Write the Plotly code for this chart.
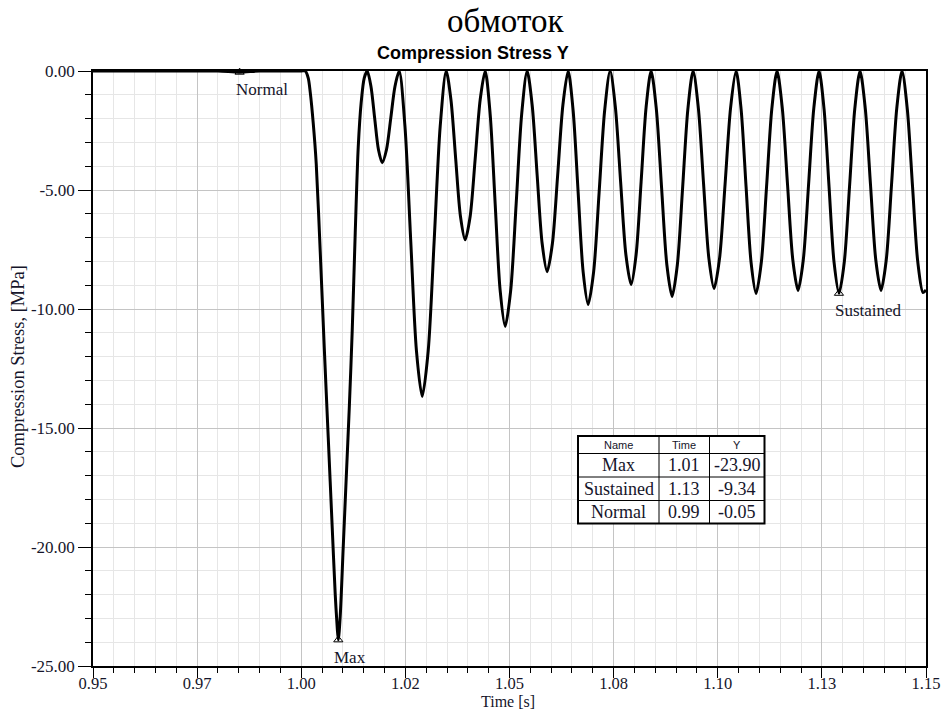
import plotly.graph_objects as go

# ---------------- data ----------------
time_s = [
    0.95, 0.96, 0.97, 0.98, 0.9852, 0.99, 1.0, 1.00096,
    1.00168, 1.00216, 1.00288, 1.0036, 1.00456, 1.00552, 1.00648, 1.00744, 1.00816, 1.00864, 1.0089,
    1.00936, 1.01008, 1.0108, 1.01152, 1.01224, 1.01296, 1.01368, 1.0144, 1.01512, 1.01584,
    1.01674, 1.01764, 1.01854, 1.01944, 1.02046, 1.02148, 1.0225, 1.02352,
    1.0249, 1.02628, 1.02766, 1.02904, 1.03048, 1.03192, 1.03336, 1.0348,
    1.03594, 1.03708, 1.03822, 1.03936, 1.04056, 1.04176, 1.04296, 1.04416,
    1.04536, 1.04656, 1.04776, 1.04896, 1.05028, 1.0516, 1.05292, 1.05424,
    1.05544, 1.05664, 1.05784, 1.05904, 1.0603, 1.06156, 1.06282, 1.06408,
    1.06528, 1.06648, 1.06768, 1.06888, 1.0702, 1.07152, 1.07284, 1.07416,
    1.07542, 1.07668, 1.07794, 1.0792, 1.0804, 1.0816, 1.0828, 1.084,
    1.08526, 1.08652, 1.08778, 1.08904, 1.0903, 1.09156, 1.09282, 1.09408,
    1.09534, 1.0966, 1.09786, 1.09912, 1.10044, 1.10176, 1.10308, 1.1044,
    1.1056, 1.1068, 1.108, 1.1092, 1.11046, 1.11172, 1.11298, 1.11424,
    1.1155, 1.11676, 1.11802, 1.11928, 1.12054, 1.1218, 1.12306, 1.12432,
    1.12552, 1.12672, 1.12792, 1.12912, 1.13038, 1.13164, 1.1329, 1.13416,
    1.13542, 1.13668, 1.13794, 1.1392, 1.14046, 1.14172, 1.14298, 1.14424,
    1.1455, 1.14676, 1.14802, 1.14928, 1.15,
]

stress_mpa = [
    0, 0, 0, 0, -0.05, 0, 0, 0,
    -0.3, -0.9, -2.2, -3.9, -7.6, -11.6, -15.4, -19.2, -22.0, -23.4, -23.9,
    -22.9, -20.0, -17.1, -14.2, -10.9, -6.8, -3.2, -1.3, -0.3, 0,
    -0.65, -2.00, -3.31, -3.85, -3.31, -2.00, -0.65, 0,
    -2.33, -7.11, -11.76, -13.68, -11.76, -7.11, -2.33, 0,
    -1.21, -3.69, -6.10, -7.09, -6.10, -3.69, -1.21, 0,
    -1.82, -5.58, -9.23, -10.73, -9.23, -5.58, -1.82, 0,
    -1.43, -4.38, -7.25, -8.43, -7.25, -4.38, -1.43, 0,
    -1.67, -5.10, -8.44, -9.81, -8.44, -5.10, -1.67, 0,
    -1.52, -4.66, -7.71, -8.97, -7.71, -4.66, -1.52, 0,
    -1.61, -4.92, -8.14, -9.47, -8.14, -4.92, -1.61, 0,
    -1.55, -4.75, -7.86, -9.14, -7.86, -4.75, -1.55, 0,
    -1.59, -4.86, -8.04, -9.35, -8.04, -4.86, -1.59, 0,
    -1.57, -4.79, -7.93, -9.22, -7.93, -4.79, -1.57, 0,
    -1.59, -4.86, -8.03, -9.34, -8.03, -4.86, -1.59, 0,
    -1.57, -4.79, -7.93, -9.22, -7.93, -4.79, -1.57, 0,
    -1.58, -4.84, -8.01, -9.31, -9.2,
]

marker_names = ["Max", "Sustained", "Normal"]
marker_time = [1.0089, 1.1291, 0.9852]
marker_value = [-23.90, -9.34, -0.05]

x_tickvals = [0.95, 0.975, 1.0, 1.025, 1.05, 1.075, 1.1, 1.125, 1.15]
x_ticktext = ["0.95", "0.97", "1.00", "1.02", "1.05", "1.08", "1.10", "1.13", "1.15"]
y_tickvals = [0, -5, -10, -15, -20, -25]
y_ticktext = ["0.00", "-5.00", "-10.00", "-15.00", "-20.00", "-25.00"]

table_header = ["Name", "Time", "Y"]

# ---------------- layout helpers ----------------
W, H = 942, 711
ML, MR, MT, MB = 93, 16, 71, 45
PW, PH = W - ML - MR, H - MT - MB


def px_x(p):
    return (p - ML) / PW


def px_y(p):
    return (H - MB - p) / PH


SERIF = "Liberation Serif, Times New Roman, serif"
SANS = "Liberation Sans, Arial, sans-serif"
TXT = "#15152a"

fig = go.Figure()
fig.add_trace(go.Scatter(
    x=time_s, y=stress_mpa, mode="lines",
    line=dict(color="black", width=3, shape="spline", smoothing=0.8),
    hoverinfo="skip", showlegend=False,
))
fig.add_trace(go.Scatter(
    x=marker_time, y=marker_value, mode="markers",
    marker=dict(symbol="triangle-up-open", size=8, color="black", line=dict(width=1, color="black")),
    showlegend=False, cliponaxis=False,
))

annotations = []
for n, t, v in zip(marker_names, marker_time, marker_value):
    annotations.append(dict(
        x=t, y=v, xref="x", yref="y", text=n, showarrow=False,
        xanchor="left", yanchor="top", xshift=-6, yshift=-6,
        font=dict(family=SERIF, size=17, color=TXT),
    ))

# titles
annotations.append(dict(x=px_x(505), y=px_y(21), xref="paper", yref="paper", text="обмоток",
                        showarrow=False, xanchor="center", yanchor="middle",
                        font=dict(family=SERIF, size=33, color="black")))
annotations.append(dict(x=px_x(473), y=px_y(53), xref="paper", yref="paper",
                        text="<b>Compression Stress Y</b>", showarrow=False,
                        xanchor="center", yanchor="middle",
                        font=dict(family=SANS, size=18, color="black")))
annotations.append(dict(x=px_x(508), y=px_y(701.5), xref="paper", yref="paper", text="Time [s]",
                        showarrow=False, xanchor="center", yanchor="middle",
                        font=dict(family=SERIF, size=16, color=TXT)))
annotations.append(dict(x=px_x(18), y=px_y(367), xref="paper", yref="paper",
                        text="Compression Stress, [MPa]", textangle=-90,
                        showarrow=False, xanchor="center", yanchor="middle",
                        font=dict(family=SERIF, size=18.5, color=TXT)))

# table
tl, tr, tt, tb = 578, 764.5, 436, 523.5
col_edges = [tl, 659, 709.5, tr]
row_edges = [tt, 453.5, 477, 500.5, tb]
shapes = []
shapes.append(dict(type="rect", xref="paper", yref="paper", x0=px_x(tl), x1=px_x(tr),
                   y0=px_y(tb), y1=px_y(tt), fillcolor="white",
                   line=dict(color="black", width=2), layer="above"))
for c in col_edges[1:-1]:
    shapes.append(dict(type="line", xref="paper", yref="paper", x0=px_x(c), x1=px_x(c),
                       y0=px_y(tb), y1=px_y(tt), line=dict(color="black", width=1), layer="above"))
for r in row_edges[1:-1]:
    shapes.append(dict(type="line", xref="paper", yref="paper", x0=px_x(tl), x1=px_x(tr),
                       y0=px_y(r), y1=px_y(r), line=dict(color="black", width=1), layer="above"))

col_centers = [(col_edges[i] + col_edges[i + 1]) / 2 for i in range(3)]
row_centers = [(row_edges[i] + row_edges[i + 1]) / 2 for i in range(4)]
for ci, h in enumerate(table_header):
    annotations.append(dict(x=px_x(col_centers[ci]), y=px_y(row_centers[0]), xref="paper", yref="paper",
                            text=h, showarrow=False, xanchor="center", yanchor="middle",
                            font=dict(family=SANS, size=11, color=TXT)))
for ri, (n, t, v) in enumerate(zip(marker_names, marker_time, marker_value)):
    cells = [n, f"{t:.2f}", f"{v:.2f}"]
    for ci, s in enumerate(cells):
        annotations.append(dict(x=px_x(col_centers[ci]), y=px_y(row_centers[ri + 1]), xref="paper",
                                yref="paper", text=s, showarrow=False, xanchor="center", yanchor="middle",
                                font=dict(family=SERIF, size=18, color=TXT)))

fig.update_layout(
    width=W, height=H,
    margin=dict(l=ML, r=MR, t=MT, b=MB, autoexpand=False),
    paper_bgcolor="white", plot_bgcolor="white",
    annotations=annotations, shapes=shapes,
    showlegend=False,
)
fig.update_xaxes(
    range=[0.95, 1.15], tickmode="array", tickvals=x_tickvals, ticktext=x_ticktext,
    automargin=False, ticklabelstandoff=-9,
    showgrid=True, gridcolor="#c4c4c4", gridwidth=1,
    showline=True, linecolor="black", linewidth=1.5, mirror=True,
    ticks="outside", ticklen=10, tickcolor="black", tickwidth=1,
    tickfont=dict(family=SERIF, size=16.5, color=TXT),
    zeroline=False,
    minor=dict(tickmode="linear", tick0=0.95, dtick=0.005, showgrid=True, gridcolor="#e6e6e6",
               ticks="outside", ticklen=5, tickcolor="black"),
)
fig.update_yaxes(
    range=[-25, 0], tickmode="array", tickvals=y_tickvals, ticktext=y_ticktext,
    automargin=False,
    showgrid=True, gridcolor="#c4c4c4", gridwidth=1,
    showline=True, linecolor="black", linewidth=1.5, mirror=True,
    ticks="outside", ticklen=13, tickcolor="black", tickwidth=1,
    tickfont=dict(family=SERIF, size=17, color=TXT),
    zeroline=False,
    minor=dict(tickmode="linear", tick0=0, dtick=1, showgrid=True, gridcolor="#e6e6e6",
               ticks="outside", ticklen=6, tickcolor="black"),
)

fig.write_html("out.html")
